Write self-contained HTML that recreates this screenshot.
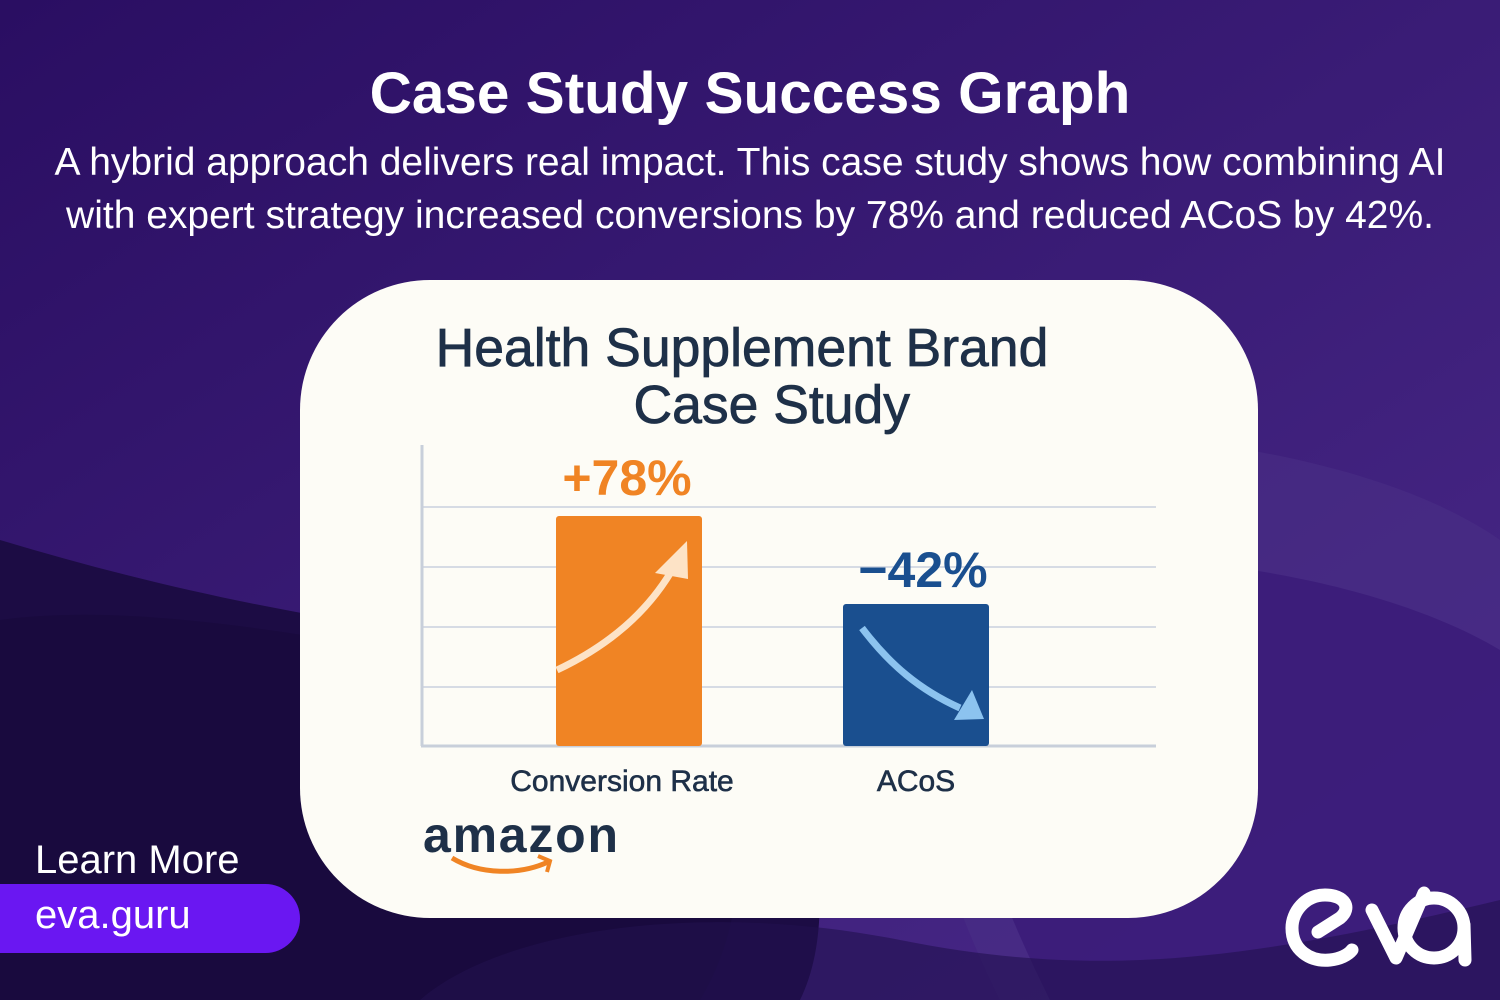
<!DOCTYPE html>
<html><head><meta charset="utf-8"><style>
html,body{margin:0;padding:0}
body{width:1500px;height:1000px;position:relative;overflow:hidden;font-family:"Liberation Sans","DejaVu Sans",sans-serif;background:#2c0f6a;}
.abs{position:absolute}
</style></head><body>
<svg class="abs" style="left:0;top:0" width="1500" height="1000">
<defs>
<linearGradient id="g1" x1="0" y1="0" x2="1" y2="1"><stop offset="0" stop-color="#2a0e62"/><stop offset="1" stop-color="#4a2a8a"/></linearGradient>
</defs>
<rect width="1500" height="1000" fill="url(#g1)"/>
<path d="M0 540 C200 600 400 640 700 660 C800 700 850 900 800 1000 L0 1000 Z" fill="#1c0c44"/>
<path d="M0 620 C150 600 350 640 650 700 C750 760 760 900 700 1000 L0 1000Z" fill="#170a3a" opacity="0.6"/>
<path d="M900 430 C1200 420 1400 470 1500 540 L1500 1000 L1000 1000 C900 800 880 600 900 430 Z" fill="#4a2f86" opacity="0.6"/>
<path d="M950 560 C1200 540 1400 590 1500 650 L1500 1000 L1050 1000 C950 800 930 650 950 560Z" fill="#3a1a78" opacity="0.8"/>
<path d="M420 1000 C500 930 700 900 900 940 C1100 980 1250 960 1500 900 L1500 1000Z" fill="#22104e" opacity="0.6"/>
</svg>
<div class="abs" style="left:0;top:60px;width:1500px;text-align:center;color:#fff;font-weight:bold;font-size:58.5px;">Case Study Success Graph</div>
<div class="abs" style="left:0;top:136px;width:1500px;text-align:center;color:#fff;font-size:39px;line-height:53px;">A hybrid approach delivers real impact. This case study shows how combining AI<br>with expert strategy increased conversions by 78% and reduced ACoS by 42%.</div>
<div class="abs" style="left:300px;top:280px;width:958px;height:638px;border-radius:130px;background:#fdfcf6;"></div>
<div class="abs" style="left:300px;top:320px;width:884px;text-align:center;color:#1e3048;font-size:53.5px;line-height:57px;-webkit-text-stroke:0.8px #1e3048;">Health Supplement Brand<br>&nbsp;&nbsp;&nbsp;&nbsp;Case Study</div>
<svg class="abs" style="left:0;top:0" width="1500" height="1000">
<g stroke="#d6dbe4" stroke-width="2">
<line x1="422" y1="507" x2="1156" y2="507"/><line x1="422" y1="567" x2="1156" y2="567"/>
<line x1="422" y1="627" x2="1156" y2="627"/><line x1="422" y1="687" x2="1156" y2="687"/>
</g>
<line x1="422" y1="445" x2="422" y2="746" stroke="#c8cfda" stroke-width="3"/>
<line x1="421" y1="746" x2="1156" y2="746" stroke="#c8cfda" stroke-width="3"/>
<rect x="556" y="516" width="146" height="230" rx="3" fill="#f08424"/>
<rect x="843" y="604" width="146" height="142" rx="3" fill="#1a4f8f"/>
<path d="M557 670 C610 645 650 610 675 565" stroke="#fde3c6" stroke-width="7" fill="none"/>
<polygon points="655,573 687,541 688,579" fill="#fde3c6"/>
<path d="M862 628 C890 665 920 690 960 708" stroke="#8cc3ef" stroke-width="7" fill="none"/>
<polygon points="954,720 984,719 972,690" fill="#8cc3ef"/>
<text x="627" y="495" text-anchor="middle" font-size="50" font-weight="bold" fill="#f08424" font-family="Liberation Sans,sans-serif">+78%</text>
<text x="923" y="587" text-anchor="middle" font-size="50" font-weight="bold" fill="#1a4f8f" font-family="Liberation Sans,sans-serif">−42%</text>
<text x="622" y="791" text-anchor="middle" font-size="30" fill="#1e3048" stroke="#1e3048" stroke-width="0.6" font-family="Liberation Sans,sans-serif">Conversion Rate</text>
<text x="916" y="791" text-anchor="middle" font-size="30" fill="#1e3048" stroke="#1e3048" stroke-width="0.6" font-family="Liberation Sans,sans-serif">ACoS</text>
<text x="423" y="852" font-size="50" font-weight="bold" fill="#1e3048" font-family="Liberation Sans,sans-serif" textLength="195">amazon</text>
<path d="M452 858 C480 875 520 875 548 862" stroke="#f08424" stroke-width="5" fill="none"/>
<path d="M538 856 L550 861 L547 872" stroke="#f08424" stroke-width="4" fill="none"/>
<g stroke="#fff" stroke-width="13" fill="none" stroke-linecap="round" stroke-linejoin="round">
<path d="M1318 932 L1340 918 C1352 908 1345 895 1325 895 C1305 895 1292 912 1292 928 C1292 950 1310 962 1330 960 C1340 959 1348 955 1352 950"/>
<path d="M1372 910 L1396 958 L1424 893"/>
<circle cx="1434" cy="928" r="30"/>
<line x1="1464" y1="925" x2="1465" y2="960"/>
</g>
</svg>
<div class="abs" style="left:35px;top:838px;color:#fff;font-size:40px;">Learn More</div>
<div class="abs" style="left:0;top:884px;width:300px;height:69px;border-radius:0 35px 35px 0;background:#6a17f2;"></div>
<div class="abs" style="left:35px;top:893px;color:#fff;font-size:40px;">eva.guru</div>
</body></html>
